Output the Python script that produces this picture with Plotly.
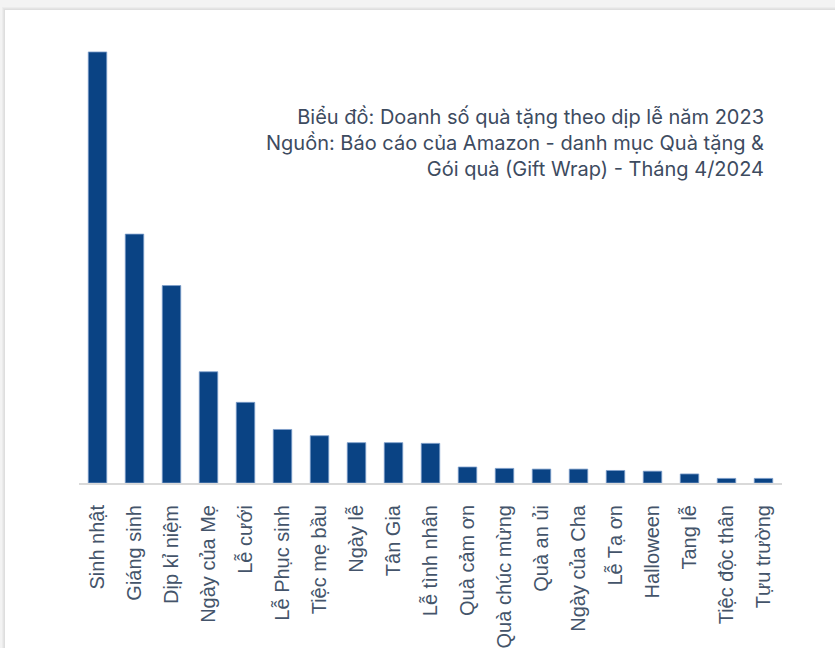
import plotly.graph_objects as go

# Dịp lễ (categories) and their share of gift sales
categories = [
    "Sinh nhật", "Giáng sinh", "Dịp kỉ niệm", "Ngày của Mẹ", "Lễ cưới",
    "Lễ Phục sinh", "Tiệc mẹ bầu", "Ngày lễ", "Tân Gia", "Lễ tình nhân",
    "Quà cảm ơn", "Quà chúc mừng", "Quà an ủi", "Ngày của Cha", "Lễ Tạ ơn",
    "Halloween", "Tang lễ", "Tiệc độc thân", "Tựu trường",
]
sales_share = [
    31.0, 17.9, 14.2, 8.0, 5.8,
    3.85, 3.4, 2.9, 2.9, 2.85,
    1.15, 1.05, 1.0, 1.0, 0.9,
    0.85, 0.65, 0.33, 0.33,
]

title_lines = [
    "Biểu đồ: Doanh số quà tặng theo dịp lễ năm 2023",
    "Nguồn: Báo cáo của Amazon - danh mục Quà tặng &",
    "Gói quà (Gift Wrap) - Tháng 4/2024",
]

W, H = 835, 648
L, R, T, B = 79, 53, 40, 165
pw, ph = W - L - R, H - T - B


def px_to_paper(x, y):
    return (x - L) / pw, (H - B - y) / ph


fig = go.Figure(
    go.Bar(
        x=categories,
        y=sales_share,
        marker=dict(color="#0a4384", line=dict(color="#7f9fcb", width=0.8)),
        width=0.5,
        hoverinfo="x+y",
    )
)

# card background with a soft shadow
shapes = []
for off, col in [(3, "#ececec"), (2, "#e4e4e4"), (1, "#dedede")]:
    x0, y0 = px_to_paper(5 - off, 10 - off)
    x1, y1 = px_to_paper(W + 5, H + 5)
    shapes.append(dict(type="rect", xref="paper", yref="paper", x0=x0, y0=y0, x1=x1, y1=y1,
                       fillcolor=col, line=dict(width=0), layer="below"))
x0, y0 = px_to_paper(5, 10)
x1, y1 = px_to_paper(W + 5, H + 5)
shapes.append(dict(type="rect", xref="paper", yref="paper", x0=x0, y0=y0, x1=x1, y1=y1,
                   fillcolor="white", line=dict(width=0), layer="below"))

tx, ty = px_to_paper(766, 103)
annotations = [
    dict(
        text="<br>".join(title_lines),
        xref="paper", yref="paper", x=tx, y=ty,
        xanchor="right", yanchor="top", align="right", showarrow=False,
        font=dict(family="Inter", size=20, color="#3d4b5f"),
    )
]

fig.update_layout(
    width=W, height=H,
    margin=dict(l=L, r=R, t=T, b=B, autoexpand=False),
    paper_bgcolor="#f3f3f3",
    plot_bgcolor="rgba(0,0,0,0)",
    shapes=shapes,
    annotations=annotations,
    showlegend=False,
    bargap=0.5,
    xaxis=dict(
        tickangle=-90,
        tickfont=dict(family="Liberation Sans", size=20, color="#44546a"),
        showline=True, linecolor="#d9d9d9", linewidth=2,
        showgrid=False, ticks="", ticklabelstandoff=12,
        automargin=False,
        range=[-0.5, len(categories) - 0.5],
    ),
    yaxis=dict(
        visible=False, range=[0, 31.86], showgrid=False, zeroline=False,
        automargin=False,
    ),
)

fig.write_html("out.html")
